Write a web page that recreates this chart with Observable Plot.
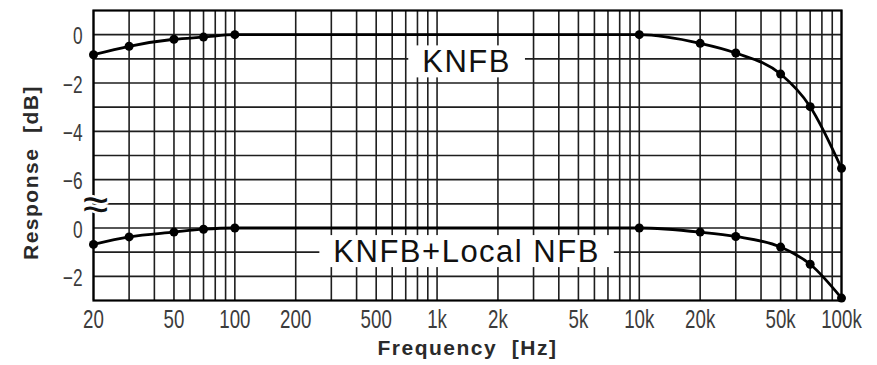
<!DOCTYPE html>
<html><head><meta charset="utf-8">
<script src="https://cdn.jsdelivr.net/npm/d3@7"></script>
<script src="https://cdn.jsdelivr.net/npm/@observablehq/plot@0.6"></script>
<style>
html,body{margin:0;padding:0;background:#fff;}
g[aria-description="axis-title"] text{letter-spacing:1.5px;}
g[aria-description="series-label"] text{letter-spacing:1.5px;}
</style></head><body><div id="chart"></div>
<script>
// ---- data ----
const frequencies = [20, 30, 50, 70, 100, 10000, 20000, 30000, 50000, 70000, 100000];
const knfb        = [-0.83, -0.48, -0.19, -0.1, 0, 0, -0.36, -0.76, -1.63, -2.98, -5.53];
const knfbLocal   = [-0.68, -0.37, -0.17, -0.05, 0, 0, -0.17, -0.35, -0.79, -1.5, -2.9];

const xTickValues = [20, 50, 100, 200, 500, 1000, 2000, 5000, 10000, 20000, 50000, 100000];
const xTickLabels = ["20", "50", "100", "200", "500", "1k", "2k", "5k", "10k", "20k", "50k", "100k"];
const upperTickValues = [0, -2, -4, -6];
const lowerTickValues = [0, -2];
const seriesNames = ["KNFB", "KNFB+Local NFB"];

// broken y axis: lower panel's 0 dB sits 8 grid units below the upper 0 dB
const LOWER_OFFSET = -8;
const BREAK_POS = -7;

const fmt = v => v < 0 ? "\u2212" + (-v) : String(v);
const rows = [];
frequencies.forEach((f, i) => {
  rows.push({series: seriesNames[0], f, y: knfb[i]});
});
frequencies.forEach((f, i) => {
  rows.push({series: seriesNames[1], f, y: knfbLocal[i] + LOWER_OFFSET});
});
const yTicks = [
  ...upperTickValues.map(v => ({pos: v, label: fmt(v)})),
  ...lowerTickValues.map(v => ({pos: v + LOWER_OFFSET, label: fmt(v)}))
];
const xTicks = xTickValues.map((v, i) => ({v, label: xTickLabels[i]}));
const xGrid = d3.scaleLog().domain([20, 100000]).ticks();
const yGrid = d3.range(0, -11, -1);
const labels = [
  {name: seriesNames[0], f: 1400, y: -1.15},
  {name: seriesNames[1], f: 1400, y: -1.0 + LOWER_OFFSET}
];

const FONT = "'Liberation Sans', Arial, Helvetica, sans-serif";
const svg = Plot.plot({
  width: 877, height: 365,
  marginLeft: 93, marginRight: 36, marginTop: 10, marginBottom: 65,
  x: {type: "log", domain: [20, 100000], axis: null},
  y: {domain: [-11, 1], axis: null},
  style: {fontFamily: FONT, background: "#fff", color: "#000"},
  marks: [
    Plot.ruleX(xGrid, {x: d => d, stroke: "#1e1e1e", strokeWidth: 1.6}),
    Plot.ruleY(yGrid, {y: d => d, stroke: "#1e1e1e", strokeWidth: 1.6}),
    Plot.text(labels, {x: "f", y: "y", text: "name", fontSize: 31, fill: "#111",
      lineAnchor: "middle", textAnchor: "middle", ariaDescription: "series-label"}),
    Plot.line(rows, {x: "f", y: "y", z: "series", curve: "monotone-x", stroke: "#000", strokeWidth: 2.8}),
    Plot.dot(rows, {x: "f", y: "y", r: 4.5, fill: "#000", stroke: "none"}),
    Plot.frame({stroke: "#000", strokeWidth: 2.2}),
    Plot.text([BREAK_POS], {y: d => d, text: () => "\u2248", frameAnchor: "left", dx: 2, dy: 1,
      fontSize: 46, fill: "#111", stroke: "#fff", strokeWidth: 5, paintOrder: "stroke",
      textAnchor: "middle", lineAnchor: "middle"}),
    Plot.text(xTicks, {x: "v", text: "label", frameAnchor: "bottom", dy: 19, lineAnchor: "middle",
      textAnchor: "middle", fontSize: 26, fill: "#3c3c3c", ariaDescription: "tick"}),
    Plot.text(yTicks, {y: "pos", text: "label", frameAnchor: "left", dx: -11, dy: 2, lineAnchor: "middle",
      textAnchor: "end", fontSize: 24, fill: "#3c3c3c", ariaDescription: "tick"}),
    Plot.text(["Frequency  [Hz]"], {text: d => d, frameAnchor: "bottom", dy: 48, lineAnchor: "middle",
      textAnchor: "middle", fontSize: 21, fontWeight: "bold", fill: "#2a2a2a", ariaDescription: "axis-title"}),
    Plot.text(["Response  [dB]"], {text: d => d, frameAnchor: "left", dx: -62, dy: 17, rotate: -90,
      textAnchor: "middle", lineAnchor: "middle", fontSize: 21, fontWeight: "bold", fill: "#2a2a2a",
      ariaDescription: "axis-title"})
  ]
});
document.getElementById("chart").appendChild(svg);

const NS = "http://www.w3.org/2000/svg";
// white boxes behind the series labels
svg.querySelectorAll('g[aria-description="series-label"] text').forEach(t => {
  const bb = t.getBBox();
  const r = document.createElementNS(NS, "rect");
  r.setAttribute("x", bb.x - 14);
  r.setAttribute("y", bb.y + 1);
  r.setAttribute("width", bb.width + 28);
  r.setAttribute("height", bb.height - 3);
  r.setAttribute("fill", "#fff");
  r.setAttribute("stroke", "none");
  const tr = t.getAttribute("transform");
  if (tr) r.setAttribute("transform", tr);
  t.parentNode.insertBefore(r, t);
});
// condensed tick numerals
svg.querySelectorAll('g[aria-description="tick"] text').forEach(t => {
  const tr = t.getAttribute("transform") || "";
  const x = +t.getAttribute("x") || 0, y = +t.getAttribute("y") || 0;
  t.setAttribute("transform", `${tr} translate(${x},${y}) scale(0.72,1) translate(${-x},${-y})`);
});
</script></body></html>
